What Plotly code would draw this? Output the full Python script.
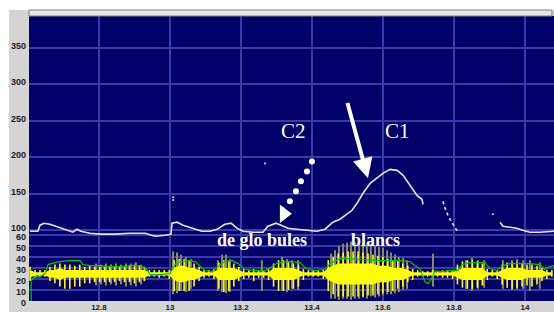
import plotly.graph_objects as go

# ---------------- data ----------------
# pitch curve (Hz) vs time (s); None = gap
pitch_t = [12.606, 12.628, 12.634, 12.645, 12.662, 12.679, 12.696, 12.713, 12.727, 12.738,
           12.749, 12.775, 12.803, 12.845, 12.887, 12.930, 12.958, 12.986, 13.003, 13.006,
           13.020, 13.037, 13.065, 13.090, 13.113, 13.133, 13.155, 13.172, 13.189, 13.206,
           13.234, 13.262, 13.276, 13.299, 13.313, 13.333, 13.358, 13.386, 13.414, 13.437,
           13.459, 13.479, 13.499, 13.513, 13.527, 13.544, 13.564, 13.583, 13.600, 13.620,
           13.640, 13.657, 13.676, 13.696, 13.710, 13.713, None,
           13.930, 13.938, 13.958, 13.977, 13.994, 14.014, 14.042, 14.065, 14.082]
pitch_f = [98.4, 98.4, 106.6, 109.3, 107.9, 105.2, 102.5, 99.7, 97.0, 101.1,
           98.4, 95.6, 94.3, 94.3, 95.6, 95.6, 91.5, 92.9, 94.3, 109.3,
           110.7, 106.6, 102.5, 98.4, 98.4, 101.1, 107.9, 109.3, 102.5, 98.4,
           97.0, 97.0, 105.2, 109.3, 106.6, 102.5, 101.1, 99.7, 98.4, 101.1,
           110.7, 114.8, 121.6, 127.0, 136.6, 150.3, 163.9, 170.8, 177.6, 183.1,
           181.7, 174.9, 161.2, 147.5, 142.1, 135.2, None,
           110.7, 105.2, 103.8, 102.5, 99.7, 97.0, 97.0, 98.4, 98.4]
pitch_dot_t = [13.769, 13.778, 13.786, 13.795, 13.803, 13.811]
pitch_dot_f = [139.3, 125.7, 117.5, 110.7, 103.8, 97.0]
stray_t = [13.268, 13.009, 13.009, 13.910]
stray_f = [191.0, 141.0, 145.0, 121.6]

# waveform envelope (amplitude scale 0-60) sampled in time
wave_t = [round(12.606 + 0.014 * k, 3) for k in range(106)]
wave_hi = [31, 28, 28, 28, 31, 33, 34, 33, 33, 32,
           33, 31, 32, 31, 31, 31, 31, 31, 31, 31,
           32, 33, 32, 31, 28, 28, 28, 28, 28, 37,
           38, 38, 37, 34, 31, 28, 28, 29, 35, 37,
           36, 34, 31, 29, 28, 29, 28, 28, 29, 34,
           37, 37, 36, 34, 33, 29, 28, 28, 28, 29,
           37, 40, 43, 44, 45, 45, 45, 44, 43, 42,
           41, 40, 38, 37, 36, 34, 32, 29, 28, 27,
           27, 28, 27, 28, 28, 28, 33, 36, 37, 37,
           36, 34, 29, 28, 28, 33, 35, 35, 35, 34,
           33, 33, 32, 30, 28, 28]
wave_lo = [18, 21, 22, 22, 18, 16, 13, 11, 11, 13,
           13, 16, 16, 17, 17, 17, 17, 17, 18, 17,
           17, 16, 17, 18, 22, 22, 21, 22, 20, 9,
           9, 9, 9, 13, 18, 21, 22, 20, 11, 8,
           9, 13, 18, 20, 21, 18, 21, 21, 19, 13,
           9, 9, 10, 11, 13, 19, 22, 22, 22, 20,
           9, 6, 4, 4, 4, 4, 4, 4, 5, 5,
           6, 7, 8, 9, 11, 13, 17, 19, 22, 22,
           22, 21, 22, 21, 21, 20, 15, 12, 11, 11,
           12, 14, 19, 22, 20, 15, 12, 11, 12, 13,
           14, 13, 15, 18, 20, 22]
core_hi = [28, 26, 26, 26, 28, 28, 30, 28, 28, 28,
           28, 28, 28, 28, 28, 28, 28, 28, 28, 28,
           28, 28, 28, 28, 26, 26, 26, 26, 26, 30,
           32, 32, 30, 30, 28, 26, 26, 26, 30, 30,
           30, 30, 28, 26, 26, 26, 26, 26, 26, 30,
           30, 30, 30, 30, 28, 26, 26, 26, 26, 26,
           30, 32, 34, 34, 34, 34, 34, 34, 34, 34,
           32, 32, 32, 30, 30, 30, 28, 26, 26, 26,
           26, 26, 26, 26, 26, 26, 28, 30, 30, 30,
           30, 30, 26, 26, 26, 28, 30, 30, 30, 30,
           28, 28, 28, 28, 26, 26]
core_lo = [21, 23, 23, 23, 21, 21, 19, 21, 21, 21,
           21, 21, 21, 21, 21, 21, 21, 21, 21, 21,
           21, 21, 21, 21, 23, 23, 23, 23, 23, 19,
           17, 17, 19, 19, 21, 23, 23, 23, 19, 19,
           19, 19, 21, 23, 23, 23, 23, 23, 23, 19,
           19, 19, 19, 19, 21, 23, 23, 23, 23, 23,
           19, 17, 15, 15, 15, 15, 15, 15, 15, 15,
           17, 17, 17, 19, 19, 19, 21, 23, 23, 23,
           23, 23, 23, 23, 23, 23, 21, 19, 19, 19,
           19, 19, 23, 23, 23, 21, 19, 19, 19, 19,
           21, 21, 21, 21, 23, 23]

# grey/olive background spikes
spike_t = [12.792, 12.806, 12.820, 12.834, 12.848, 12.862, 12.876, 12.890, 12.904, 12.919,
           13.009, 13.020, 13.031, 13.045, 13.059, 13.135, 13.147, 13.158, 13.169, 13.259,
           13.316, 13.330, 13.344, 13.361, 13.454, 13.465, 13.476, 13.488, 13.499, 13.510,
           13.521, 13.533, 13.544, 13.555, 13.566, 13.578, 13.589, 13.600, 13.612, 13.623,
           13.634, 13.645, 13.657, 13.668, 13.741, 13.834, 13.851, 13.868, 13.885, 13.938,
           13.964, 13.978, 13.995, 14.014, 14.042]
spike_hi = [34, 33, 34, 33, 34, 33, 34, 34, 35, 33,
            45, 44, 42, 40, 38, 37, 42, 42, 38, 37,
            40, 38, 37, 37, 43, 46, 50, 52, 53, 54,
            53, 54, 53, 51, 52, 50, 49, 48, 46, 44,
            42, 40, 39, 37, 43, 37, 39, 37, 37, 37,
            37, 38, 37, 37, 35]
spike_lo = [14, 15, 14, 15, 14, 15, 13, 14, 13, 15,
            6, 7, 9, 8, 11, 9, 8, 7, 8, 9,
            9, 8, 11, 10, 2, 2, 1, 2, 2, 1,
            2, 2, 3, 2, 4, 3, 4, 5, 6, 6,
            7, 8, 10, 11, 13, 11, 9, 11, 12, 11,
            10, 10, 11, 9, 11]

# intensity (green) curve
inten_t = [12.609, 12.609, 12.620, 12.634, 12.648, 12.657, 12.676, 12.690, 12.718, 12.747,
           12.755, 12.775, 12.803, 12.831, 12.859, 12.888, 12.916, 12.933, 12.944, 12.972,
           13.000, 13.014, 13.028, 13.057, 13.071, 13.085, 13.099, 13.118, 13.135, 13.155,
           13.175, 13.192, 13.211, 13.240, 13.268, 13.288, 13.304, 13.338, 13.366, 13.383,
           13.409, 13.437, 13.451, 13.479, 13.507, 13.535, 13.592, 13.648, 13.676, 13.690,
           13.704, 13.718, 13.727, 13.738, 13.747, 13.761, 13.789, 13.811, 13.823, 13.845,
           13.887, 13.902, 13.921, 13.938, 13.958, 14.014, 14.042, 14.056, 14.071, 14.082]
inten_v = [0, 18.5, 22.1, 22.1, 24.8, 33.0, 34.8, 35.7, 36.6, 36.6,
           33.0, 32.1, 32.1, 31.2, 31.2, 32.1, 32.1, 29.4, 23.9, 23.9,
           24.8, 33.0, 35.7, 36.6, 35.7, 31.2, 27.5, 26.6, 31.2, 35.7,
           36.6, 33.9, 28.5, 27.5, 27.5, 31.2, 34.8, 35.7, 34.8, 29.4,
           27.5, 28.5, 33.9, 38.5, 38.5, 37.5, 36.6, 36.6, 35.7, 32.1,
           29.4, 17.5, 15.7, 20.3, 27.5, 26.6, 27.5, 27.5, 33.0, 34.8,
           34.8, 29.4, 27.5, 32.1, 33.9, 33.9, 33.0, 28.5, 31.2, 32.1]

# axis ticks
x_ticks = [12.8, 13.0, 13.2, 13.4, 13.6, 13.8, 14.0]
x_labels = ["12.8", "13", "13.2", "13.4", "13.6", "13.8", "14"]
pitch_ticks = [100, 150, 200, 250, 300, 350]
amp_ticks = [0, 10, 20, 30, 40, 50, 60]

# dotted arrow (annotation) points
dots_t = [13.400, 13.386, 13.369, 13.355, 13.338]
dots_f = [194.0, 180.3, 166.7, 153.0, 139.3]
tri_t = [13.321]
tri_f = [122.3]

# ---------------- styling ----------------
NAVY = "#000068"
GRID = "#3a3aac"
YEL = "#ffff00"
OLIVE = "#8c8c62"
GREEN = "#00c800"
PITCH = "#e6e6e6"


def segs(ts, his, los):
    xs, ys = [], []
    for t, h, l in zip(ts, his, los):
        xs += [t, t, None]
        ys += [l, h, None]
    return xs, ys


fig = go.Figure()

sx, sy = segs(spike_t, spike_hi, spike_lo)
fig.add_trace(go.Scatter(x=sx, y=sy, mode="lines", yaxis="y2",
                         line=dict(color=OLIVE, width=2), hoverinfo="skip"))

fig.add_trace(go.Scatter(x=wave_t, y=core_lo, mode="lines", yaxis="y2",
                         line=dict(color=YEL, width=0), hoverinfo="skip"))
fig.add_trace(go.Scatter(x=wave_t, y=core_hi, mode="lines", yaxis="y2", fill="tonexty",
                         fillcolor=YEL, line=dict(color=YEL, width=0), hoverinfo="skip"))

wx, wy = segs(wave_t, wave_hi, wave_lo)
fig.add_trace(go.Scatter(x=wx, y=wy, mode="lines", yaxis="y2",
                         line=dict(color=YEL, width=1.6), hoverinfo="skip"))

fig.add_trace(go.Scatter(x=inten_t, y=inten_v, mode="lines", yaxis="y2",
                         line=dict(color=GREEN, width=1.2), hoverinfo="skip"))

fig.add_trace(go.Scatter(x=pitch_t, y=pitch_f, mode="lines", connectgaps=False,
                         line=dict(color=PITCH, width=1.6), hoverinfo="skip"))
fig.add_trace(go.Scatter(x=pitch_dot_t, y=pitch_dot_f, mode="lines",
                         line=dict(color=PITCH, width=1.6, dash="dot"), hoverinfo="skip"))
fig.add_trace(go.Scatter(x=stray_t, y=stray_f, mode="markers",
                         marker=dict(color=PITCH, size=2), hoverinfo="skip"))

fig.add_trace(go.Scatter(x=dots_t, y=dots_f, mode="markers",
                         marker=dict(color="white", size=6, symbol="circle"), hoverinfo="skip"))
fig.add_trace(go.Scatter(x=tri_t, y=tri_f, mode="markers",
                         marker=dict(color="white", size=16, symbol="triangle-right"),
                         hoverinfo="skip"))

serif = "Liberation Serif, Times New Roman, serif"
fig.add_annotation(x=13.349, y=236, text="C2", showarrow=False,
                   font=dict(family=serif, size=21, color="white"))
fig.add_annotation(x=13.642, y=236, text="C1", showarrow=False,
                   font=dict(family=serif, size=21, color="white"))
fig.add_annotation(x=13.259, y=86, text="<b>de glo bules</b>", showarrow=False,
                   font=dict(family=serif, size=18, color="white"))
fig.add_annotation(x=13.578, y=87, text="<b>blancs</b>", showarrow=False,
                   font=dict(family=serif, size=18, color="white"))
fig.add_annotation(x=13.558, y=171, ax=13.499, ay=276, axref="x", ayref="y",
                   text="", showarrow=True, arrowhead=2, arrowsize=1, arrowwidth=4,
                   arrowcolor="white", standoff=0)

tickfont = dict(family="Liberation Sans, Arial, sans-serif", size=9, color="#1a1a1a", weight="bold")
xtickfont = dict(family="Liberation Sans, Arial, sans-serif", size=8, color="#1a1a1a", weight="bold")

fig.update_layout(
    width=554, height=312,
    margin=dict(l=29, r=0, t=16, b=11, autoexpand=False),
    paper_bgcolor="#d4d4d4",
    plot_bgcolor=NAVY,
    showlegend=False,
    xaxis=dict(range=[12.603, 14.082], tickvals=x_ticks, ticktext=x_labels,
               showgrid=True, gridcolor=GRID, gridwidth=2, zeroline=False,
               showline=False, ticks="", tickfont=xtickfont, ticklabelstandoff=0),
    yaxis=dict(range=[2.74, 393.2], tickvals=pitch_ticks, showgrid=True, gridcolor=GRID,
               gridwidth=2, zeroline=False, showline=False, ticks="", tickfont=tickfont,
               ticklabelstandoff=2, ticklabelshift=-2),
    yaxis2=dict(range=[-0.1, 259.0], overlaying="y", side="left", tickvals=amp_ticks,
                showgrid=True, gridcolor=GRID, gridwidth=1.5, zeroline=False, showline=False,
                ticks="", tickfont=tickfont, ticklabelstandoff=2, ticklabelshift=2),
)

# window chrome: white margins, scrollbar at top
fig.add_shape(type="rect", xref="paper", yref="paper", x0=-0.1, x1=-0.0381, y0=-0.1, y1=1.1,
              fillcolor="white", line=dict(width=0), layer="above")
fig.add_shape(type="rect", xref="paper", yref="paper", x0=-0.1, x1=1.1, y0=1.0211, y1=1.1,
              fillcolor="white", line=dict(width=0), layer="above")
fig.add_shape(type="rect", xref="paper", yref="paper", x0=0.0, x1=0.996, y0=1.0, y1=1.0211,
              fillcolor="#e6e6e6", line=dict(color="#808080", width=1), layer="above")

fig.write_html("out.html", config={"displayModeBar": False},
               post_script="document.body.style.margin='0';document.body.style.overflow='hidden';")
